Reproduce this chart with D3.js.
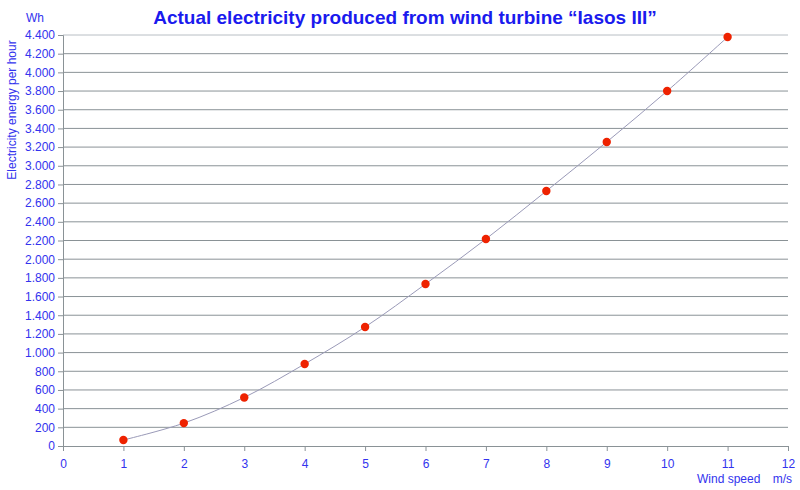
<!DOCTYPE html><html><head><meta charset="utf-8"><script src="https://cdn.jsdelivr.net/npm/d3@7"></script>
<style>body{margin:0;background:#fff}</style></head><body><svg id="c" width="800" height="490"></svg>
<script>
const speeds=[1,2,3,4,5,6,7,8,9,10,11];
const energy=[64,245,520,878,1274,1734,2216,2730,3255,3800,4378];
const yTicks=d3.range(0,4401,200);
const xTicks=d3.range(0,13,1);
const svg=d3.select("#c");
const L=63,R=788,T=35,B=446;
const x=d3.scaleLinear().domain([0,12]).range([L,R]);
const y=d3.scaleLinear().domain([0,4400]).range([B,T]);
const fmt=v=>v>=1000?Math.floor(v/1000)+"."+String(v%1000).padStart(3,"0"):String(v);
const blue="#3333ee";
svg.append("g").selectAll("line").data(yTicks.slice(1)).join("line")
 .attr("x1",L).attr("x2",R).attr("y1",d=>y(d)).attr("y2",d=>y(d))
 .attr("stroke",(d,i)=>d===4400?"#b8bec4":"#8a9296").attr("stroke-width",1);
const ya=svg.append("g").attr("transform",`translate(${L},0)`).call(d3.axisLeft(y).tickValues(yTicks).tickFormat(fmt).tickSize(5));
const xa=svg.append("g").attr("transform",`translate(0,${B})`).call(d3.axisBottom(x).tickValues(xTicks).tickSize(5).tickPadding(8));
[ya,xa].forEach(a=>{a.selectAll("path,line").attr("stroke","#8a9296");a.selectAll("text").attr("fill",blue).attr("font-family","Liberation Sans, Arial").attr("font-size",12);});
const line=d3.line().x((d,i)=>x(speeds[i])).y(d=>y(d)).curve(d3.curveCatmullRom);
svg.append("path").datum(energy).attr("d",line).attr("fill","none").attr("stroke","#9a9ab8").attr("stroke-width",1);
svg.append("g").selectAll("circle").data(energy).join("circle")
 .attr("cx",(d,i)=>x(speeds[i])).attr("cy",d=>y(d)).attr("r",4.2).attr("fill","#ee2200");
svg.append("text").attr("x",405).attr("y",24).attr("text-anchor","middle").attr("fill","#1a1aee")
 .attr("font-family","Liberation Sans, Arial").attr("font-weight","bold").attr("font-size",19).text("Actual electricity produced from wind turbine “Iasos III”");
svg.append("text").attr("x",26).attr("y",22).attr("fill",blue).attr("font-family","Liberation Sans, Arial").attr("font-size",12).text("Wh");
svg.append("text").attr("transform","translate(16,110) rotate(-90)").attr("text-anchor","middle").attr("fill",blue).attr("font-family","Liberation Sans, Arial").attr("font-size",12).text("Electricity energy per hour");
svg.append("text").attr("x",697).attr("y",483).attr("fill",blue).attr("font-family","Liberation Sans, Arial").attr("font-size",12).text("Wind speed");
svg.append("text").attr("x",792).attr("y",483).attr("text-anchor","end").attr("fill",blue).attr("font-family","Liberation Sans, Arial").attr("font-size",12).text("m/s");
</script></body></html>
